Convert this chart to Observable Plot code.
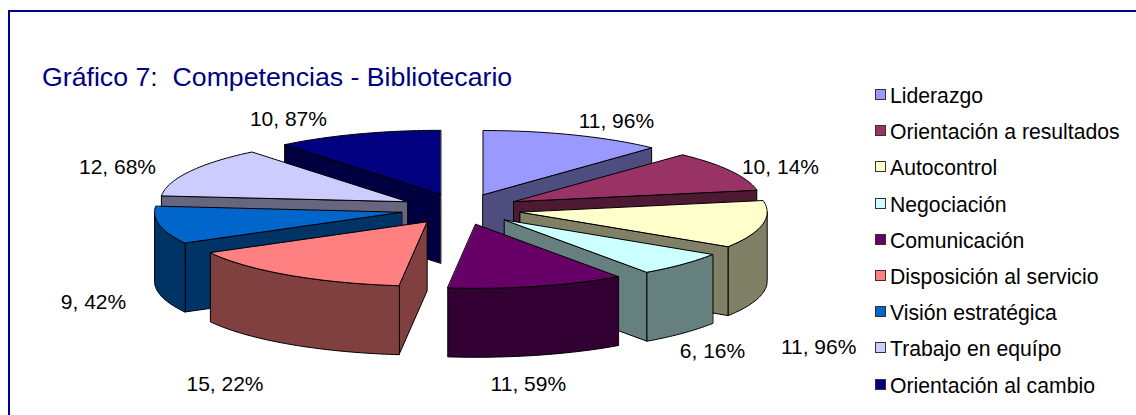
<!DOCTYPE html>
<html>
<head>
<meta charset="utf-8">
<script src="https://cdn.jsdelivr.net/npm/d3@7"></script>
<script src="https://cdn.jsdelivr.net/npm/@observablehq/plot@0.6"></script>
<style>
  html, body { margin: 0; padding: 0; background: #fff; }
  #chart { position: relative; width: 1136px; height: 415px; overflow: hidden; font-family: "Liberation Sans", Arial, sans-serif; }
  #frame { position: absolute; left: 8px; top: 10px; width: 1200px; height: 450px; border: 2px solid #000090; }
  #title { position: absolute; left: 42px; top: 62px; font-size: 26.7px; color: #000080; white-space: pre; line-height: 30px; }
  #legend { position: absolute; left: 875px; top: 78px; }
  .row { position: relative; height: 36.2px; line-height: 36.2px; font-size: 21.2px; color: #000; white-space: pre; padding-left: 15px; }
  .sw { position: absolute; left: 0; top: 11px; width: 9px; height: 9px; border: 1px solid #333; }
  svg { position: absolute; left: 0; top: 0; background: transparent; }
</style>
</head>
<body>
<div id="chart">
  <div id="frame"></div>
  <div id="title">Gráfico 7:  Competencias - Bibliotecario</div>
  <div id="legend"></div>
</div>
<script>
const categories = ["Liderazgo","Orientación a resultados","Autocontrol","Negociación","Comunicación","Disposición al servicio","Visión estratégica","Trabajo en equípo","Orientación al cambio"];
const values = [11.96,10.14,11.96,6.16,11.59,15.22,9.42,12.68,10.87];
const topColors = ["#9999FF","#993366","#FFFFCC","#CCFFFF","#660066","#FF8080","#0066CC","#CCCCFF","#000080"];
const sideColors = ["#4D4D80","#4D1933","#808066","#668080","#330033","#804040","#003366","#666680","#000040"];
// manual placement of each value label, relative to its slice's outer midpoint, in pie radii
const labelNudgeX = [0.173,0.202,0.227,0.119,-0.035,-0.26,-0.268,-0.291,-0.281];
const labelNudgeY = [0.211,0.052,-1.922,-1.365,-1.535,-1.708,-1.206,0.066,0.227];
// back-to-front drawing order of the exploded slices
const drawOrder = [8,0,1,7,2,6,3,5,4];
const explode = 0.245, depth = 1.078;

const total = d3.sum(values);
const cum = d3.cumsum(values);
const rad = p => p / total * 2 * Math.PI;
const slices = values.map((v, i) => {
  const a0 = rad(cum[i] - v), a1 = rad(cum[i]), m = (a0 + a1) / 2;
  return {i, a0, a1, m, ax: explode * Math.sin(m), ay: explode * Math.cos(m)};
});
const pt = (s, a, dz = 0) => ({x: s.ax + Math.sin(a), y: s.ay + Math.cos(a) - dz});
const arc = (s, a0, a1, dz = 0) => {
  const n = Math.max(2, Math.ceil((a1 - a0) / 0.02));
  return d3.range(n + 1).map(k => pt(s, a0 + (a1 - a0) * k / n, dz));
};
const polys = [];
let pid = 0;
const add = (pts, fill) => { const id = pid++; pts.forEach(p => polys.push({...p, id, fill})); };
for (const i of drawOrder) {
  const s = slices[i];
  const apex = {x: s.ax, y: s.ay}, apexB = {x: s.ax, y: s.ay - depth};
  if (Math.sin(s.a0) < 0) add([apex, pt(s, s.a0), pt(s, s.a0, depth), apexB], sideColors[i]);
  if (Math.sin(s.a1) > 0) add([apex, pt(s, s.a1), pt(s, s.a1, depth), apexB], sideColors[i]);
  const w0 = Math.max(s.a0, Math.PI / 2), w1 = Math.min(s.a1, 3 * Math.PI / 2);
  if (w1 > w0) add([...arc(s, w0, w1), ...arc(s, w0, w1, depth).reverse()], sideColors[i]);
  add([apex, ...arc(s, s.a0, s.a1)], topColors[i]);
}
const labels = slices.map(s => ({
  text: values[s.i].toFixed(2).replace(".", ", ") + "%",
  x: s.ax + Math.sin(s.m) + labelNudgeX[s.i],
  y: s.ay + Math.cos(s.m) + labelNudgeY[s.i]
}));

const plot = Plot.plot({
  width: 1136, height: 415,
  marginTop: 0, marginRight: 0, marginBottom: 0, marginLeft: 0,
  x: {axis: null, domain: [-1, 1], range: [213.3, 707.3]},
  y: {axis: null, domain: [-1, 1], range: [272.6, 144.6]},
  color: {type: "identity"},
  style: {background: "transparent", fontFamily: "'Liberation Sans', Arial, sans-serif"},
  marks: [
    Plot.line(polys, {x: "x", y: "y", z: "id", fill: "fill", stroke: "#000", strokeWidth: 1, curve: "linear-closed"}),
    Plot.text(labels, {x: "x", y: "y", text: "text", fontSize: 21, fill: "#000", textAnchor: "middle", lineAnchor: "middle"})
  ]
});
document.getElementById("chart").appendChild(plot);

const legend = document.getElementById("legend");
categories.forEach((c, i) => {
  const row = document.createElement("div");
  row.className = "row";
  const sw = document.createElement("span");
  sw.className = "sw";
  sw.style.background = topColors[i];
  row.appendChild(sw);
  row.appendChild(document.createTextNode(c));
  legend.appendChild(row);
});
</script>
</body>
</html>
